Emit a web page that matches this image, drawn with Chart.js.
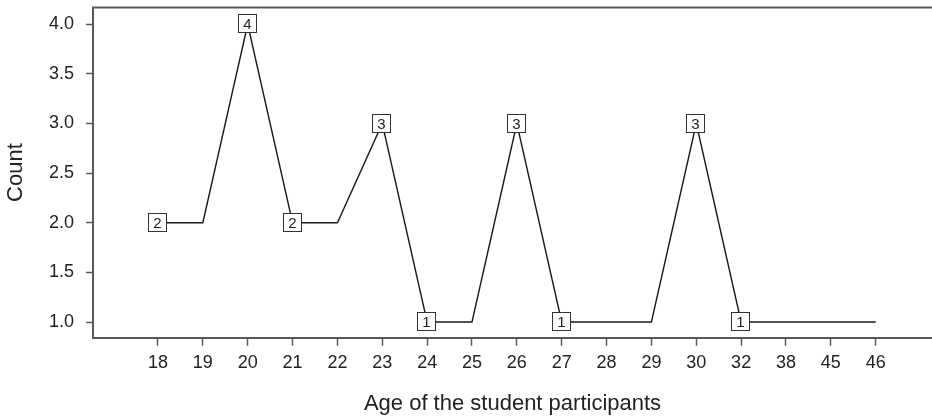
<!DOCTYPE html>
<html>
<head>
<meta charset="utf-8">
<script src="https://cdn.jsdelivr.net/npm/chart.js@4.4.1/dist/chart.umd.min.js"></script>
<style>
  html, body { margin: 0; padding: 0; background: #fff; }
  #wrap { width: 932px; height: 416px; position: relative; }
</style>
</head>
<body>
<div id="wrap"><canvas id="c"></canvas></div>
<script>
// Ages (category labels along the x axis)
const ages = ['18', '19', '20', '21', '22', '23', '24', '25', '26', '27', '28', '29', '30', '32', '38', '45', '46'];
// Number of students at each age
const counts = [2, 2, 4, 2, 2, 3, 1, 1, 3, 1, 1, 1, 3, 1, 1, 1, 1];
// Ages whose count is printed in a box
const labelledAges = ['18', '20', '21', '23', '24', '26', '27', '30', '32'];
// Y axis tick values
const yTickValues = [1.0, 1.5, 2.0, 2.5, 3.0, 3.5, 4.0];

const points = counts.map((c, i) => ({ x: i, y: c }));

const FONT = "'Liberation Sans', Arial, Helvetica, sans-serif";
const AXIS = '#585858';
const TEXT = '#222';

// Boxed value labels centred on the chosen points
const boxLabels = {
  id: 'boxLabels',
  afterDatasetsDraw(chart) {
    const ctx = chart.ctx;
    const meta = chart.getDatasetMeta(0);
    const size = 18;
    ctx.save();
    ctx.font = '15px ' + FONT;
    ctx.textAlign = 'center';
    ctx.textBaseline = 'middle';
    meta.data.forEach((pt, i) => {
      if (!labelledAges.includes(ages[i])) return;
      const x = Math.round(pt.x - 1) + 0.5;
      const y = Math.round(pt.y - 1) + 0.5;
      ctx.fillStyle = '#fff';
      ctx.fillRect(x - size / 2, y - size / 2, size, size);
      ctx.strokeStyle = '#333';
      ctx.lineWidth = 1;
      ctx.strokeRect(x - size / 2, y - size / 2, size, size);
      ctx.fillStyle = TEXT;
      ctx.fillText(String(counts[i]), x, y + 1);
    });
    ctx.restore();
  }
};

// Upper frame line across the plot
const topFrame = {
  id: 'topFrame',
  afterDraw(chart) {
    const { ctx, chartArea } = chart;
    ctx.save();
    ctx.strokeStyle = AXIS;
    ctx.lineWidth = 2;
    ctx.beginPath();
    ctx.moveTo(chartArea.left - 1, chartArea.top);
    ctx.lineTo(chart.width, chartArea.top);
    ctx.stroke();
    ctx.restore();
  }
};

new Chart(document.getElementById('c'), {
  type: 'line',
  data: {
    datasets: [{
      data: points,
      borderColor: '#1a1a1a',
      borderWidth: 1.4,
      pointRadius: 0,
      tension: 0,
      fill: false
    }]
  },
  options: {
    responsive: true,
    maintainAspectRatio: false,
    animation: false,
    layout: { padding: { top: 7.5, right: 0, bottom: 0, left: 0 } },
    plugins: { legend: { display: false }, tooltip: { enabled: false } },
    scales: {
      x: {
        type: 'linear',
        min: -1.449,
        max: 17.255,
        afterBuildTicks: s => { s.ticks = ages.map((_, i) => ({ value: i })); },
        afterFit: s => { s.height = 78.3; s.paddingLeft = 0; s.paddingRight = 0; },
        ticks: {
          callback: v => ages[v],
          autoSkip: false,
          maxRotation: 0,
          padding: 6.5,
          color: TEXT,
          font: { family: FONT, size: 18 }
        },
        grid: { drawOnChartArea: false, drawTicks: true, tickLength: 8, tickColor: AXIS, tickWidth: 1.5 },
        border: { color: AXIS, width: 2 },
        title: {
          display: true,
          text: 'Age of the student participants',
          color: TEXT,
          font: { family: FONT, size: 22, lineHeight: 1 },
          padding: { top: 0, bottom: 1 }
        }
      },
      y: {
        type: 'linear',
        min: 0.842,
        max: 4.169,
        afterBuildTicks: s => { s.ticks = yTickValues.map(v => ({ value: v })); },
        afterFit: s => { s.width = 93; s.paddingTop = 0; s.paddingBottom = 0; },
        ticks: {
          callback: v => Number(v).toFixed(1),
          padding: 12,
          color: TEXT,
          font: { family: FONT, size: 18 }
        },
        grid: { drawOnChartArea: false, drawTicks: true, tickLength: 7, tickColor: AXIS, tickWidth: 1.5 },
        border: { color: AXIS, width: 2 },
        title: {
          display: true,
          text: 'Count',
          color: TEXT,
          font: { family: FONT, size: 22, lineHeight: 1 },
          padding: { top: 5.4, bottom: 0 }
        }
      }
    }
  },
  plugins: [boxLabels, topFrame]
});
</script>
</body>
</html>
